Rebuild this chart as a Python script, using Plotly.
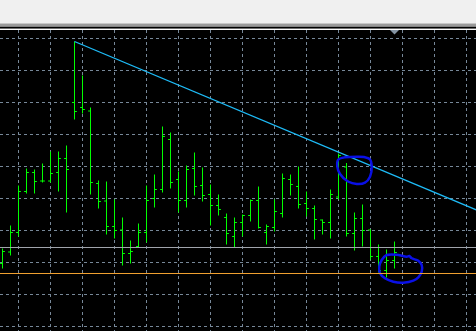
import plotly.graph_objects as go

# ---- data (bar index, price points) ----
bar_index = list(range(50))
open_ = [68, 79.5, 99, 140, 159, 150.5, 150.5, 159, 173, 229,
         224, 220.5, 148, 130.5, 105, 101.5, 78, 85, 99, 133,
         142, 192, 152, 131, 163, 146, 137, 126, 114, 95,
         109, 116, 131, 99, 104, 118, 152, 145, 128, 123,
         111.5, 109, 134.5, 164.5, 98, 113, 101.5, 75, 61, 71]
high = [83, 106, 146, 163, 162, 168, 180, 180, 186, 290,
        256, 224, 151, 150, 132, 114, 91, 108, 146, 157,
        205, 199, 160, 166, 179, 164, 147, 137, 118, 114,
        117, 132, 145, 107, 132, 158, 157, 165, 140, 126,
        112, 142, 178, 168.5, 119, 127, 102, 87, 82, 90]
low = [63, 76, 95, 138, 138, 149, 149, 140, 119, 212,
       218, 137, 123, 97, 93, 66, 68, 84, 89, 124,
       139, 143, 119, 124, 136, 130, 106, 116, 87, 84,
       95, 110, 103, 87, 100, 114, 136, 123, 115, 92,
       97, 93, 132, 95, 81, 85, 72, 59, 54, 63]
close = [80, 99, 140, 159, 150, 150.5, 158, 173, 162, 220,
         222, 149, 130, 105, 101, 78, 80, 99, 131, 142,
         195, 149, 131, 162, 145, 136, 126, 122, 98, 109,
         116, 131, 104, 105, 120, 153, 147, 127, 123, 112,
         109, 137, 176, 98, 113, 101, 75, 61, 71, 79]

trend_x = [9, 60]
trend_y = [290, 119]
hline_gray = 84
hline_orange = 58

circle1_x = [41.98, 42.81, 44.48, 45.19, 45.94, 46.15, 45.94, 45.31, 44.28, 43.19, 42.19, 41.85, 41.98]
circle1_y = [172.0, 174.2, 174.8, 174.5, 172.0, 164.8, 154.8, 148.8, 147.5, 150.0, 157.5, 164.8, 172.0]
circle2_x = [48.03, 49.28, 50.53, 50.85, 51.15, 51.98, 52.40, 52.40, 51.98, 51.35, 50.10, 48.85, 47.81, 47.19, 47.10, 47.40, 48.03]
circle2_y = [76.5, 76.8, 74.8, 75.5, 73.2, 70.8, 66.5, 59.8, 54.2, 50.8, 48.8, 49.8, 53.2, 58.2, 64.8, 71.5, 76.5]

W, H = 476, 331
TOP = 30
PH = H - TOP

def py(p):  # pixel row -> paper y
    return (H - p) / PH

def px(p):
    return p / W

fig = go.Figure()

fig.add_trace(go.Ohlc(
    x=bar_index, open=open_, high=high, low=low, close=close,
    increasing=dict(line=dict(color="#00ff00", width=1)),
    decreasing=dict(line=dict(color="#00ff00", width=1)),
    tickwidth=0.3, showlegend=False, hoverinfo="skip"))

fig.add_trace(go.Scatter(x=trend_x, y=trend_y, mode="lines",
                         line=dict(color="#1ebcf8", width=1.3), showlegend=False, hoverinfo="skip"))

for cx, cy in ((circle1_x, circle1_y), (circle2_x, circle2_y)):
    fig.add_trace(go.Scatter(x=cx, y=cy, mode="lines",
                             line=dict(color="#0a10e6", width=2.5, shape="spline", smoothing=0.8),
                             showlegend=False, hoverinfo="skip"))

fig.add_hline(y=hline_gray, line=dict(color="#a0a4ac", width=1))
fig.add_hline(y=hline_orange, line=dict(color="#f0a030", width=1))

shapes = [
    dict(type="rect", xref="paper", yref="paper", x0=0, x1=1, y0=py(24), y1=py(23),
         fillcolor="#c8c8c8", line_width=0, layer="above"),
    dict(type="rect", xref="paper", yref="paper", x0=0, x1=1, y0=py(26.7), y1=py(24),
         fillcolor="#9a9a9a", line_width=0, layer="above"),
    dict(type="rect", xref="paper", yref="paper", x0=0, x1=1, y0=py(28.7), y1=py(26.7),
         fillcolor="#000000", line_width=0, layer="above"),
    dict(type="rect", xref="paper", yref="paper", x0=0, x1=1, y0=py(29.8), y1=py(28.7),
         fillcolor="#ffffff", line_width=0, layer="above"),
    dict(type="path", xref="paper", yref="paper",
         path=f"M {px(390)} {py(30)} L {px(399)} {py(30)} L {px(394.5)} {py(34.5)} Z",
         fillcolor="#8494a4", line_width=0, layer="above"),
]
for s in shapes:
    fig.add_shape(**s)

fig.update_layout(
    width=W, height=H,
    margin=dict(l=0, r=0, t=TOP, b=0, pad=0),
    paper_bgcolor="#f0f0f0", plot_bgcolor="#000000",
    showlegend=False,
    xaxis=dict(range=[-0.3125, 59.1875], tick0=2, dtick=4, showgrid=True,
               gridcolor="#778899", gridwidth=1, griddash="3px,3px",
               showticklabels=False, zeroline=False, showline=False,
               rangeslider=dict(visible=False), fixedrange=True),
    yaxis=dict(range=[0.5, 301.5], tick0=5, dtick=32, showgrid=True,
               gridcolor="#778899", gridwidth=1, griddash="3px,3px",
               showticklabels=False, zeroline=False, showline=False, fixedrange=True),
)

fig.write_html("out.html")
